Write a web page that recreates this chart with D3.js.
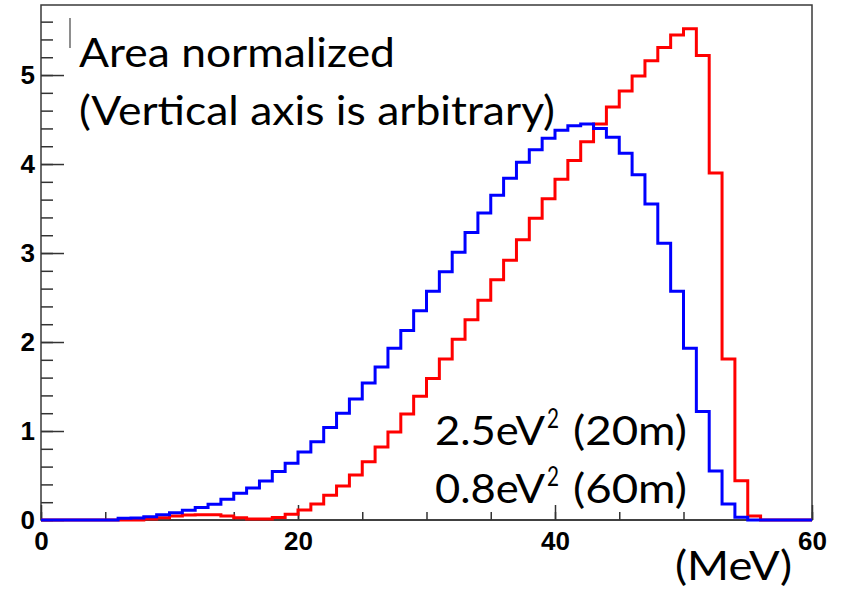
<!DOCTYPE html>
<html>
<head>
<meta charset="utf-8">
<script src="https://cdn.jsdelivr.net/npm/d3@7"></script>
<style>
  html, body { margin: 0; padding: 0; background: #fff; }
  svg { display: block; }
</style>
</head>
<body>
<svg id="chart" width="842" height="591"></svg>
<script>
// Energy spectra, 1 MeV bins from 0 to 60 MeV (area normalized)
const binEdges = d3.range(0, 61);

// 2.5 eV^2 at 20 m
const blueValues = [
  0, 0, 0, 0, 0, 0, 0.02, 0.022, 0.037, 0.06,
  0.082, 0.11, 0.14, 0.176, 0.232, 0.30, 0.36, 0.438, 0.545, 0.637,
  0.765, 0.88, 1.04, 1.20, 1.36, 1.54, 1.72, 1.93, 2.13, 2.35,
  2.57, 2.79, 3.01, 3.23, 3.45, 3.65, 3.84, 4.02, 4.16, 4.29,
  4.38, 4.43, 4.45, 4.40, 4.30, 4.12, 3.88, 3.55, 3.11, 2.57,
  1.93, 1.22, 0.55, 0.18, 0.03, 0, 0, 0, 0, 0
];

// 0.8 eV^2 at 60 m
const redValues = [
  0, 0, 0, 0, 0, 0, 0, 0, 0.01, 0.025,
  0.045, 0.055, 0.06, 0.06, 0.045, 0.025, 0.01, 0.01, 0.028, 0.065,
  0.112, 0.18, 0.277, 0.382, 0.506, 0.655, 0.82, 0.99, 1.19, 1.39,
  1.59, 1.81, 2.03, 2.25, 2.47, 2.70, 2.92, 3.15, 3.39, 3.61,
  3.83, 4.04, 4.25, 4.45, 4.64, 4.82, 4.99, 5.16, 5.31, 5.45,
  5.52, 5.22, 3.90, 1.81, 0.44, 0.045, 0, 0, 0, 0
];

const xMajorTicks = [0, 20, 40, 60];
const xMinorTicks = d3.range(0, 61, 5);
const yMajorTicks = [0, 1, 2, 3, 4, 5];
const yMinorTicks = d3.range(0, 5.7, 0.2);

const xMin = 0, xMax = 60, yMin = 0, yMax = 5.787;

const svg = d3.select("#chart");
const plot = { left: 41, right: 812, top: 5, bottom: 520 };

const x = d3.scaleLinear().domain([xMin, xMax]).range([plot.left, plot.right]);
const y = d3.scaleLinear().domain([yMin, yMax]).range([plot.bottom, plot.top]);

const labelFont = "'Liberation Sans', Arial, Helvetica, sans-serif";
const textFont = "Lato, 'Open Sans', sans-serif";

// Frame
svg.append("rect")
  .attr("x", plot.left).attr("y", plot.top)
  .attr("width", plot.right - plot.left).attr("height", plot.bottom - plot.top)
  .attr("fill", "none").attr("stroke", "#3a3a3a").attr("stroke-width", 1.5);

// Y axis: minor then major ticks drawn inward
const yMinorAxis = d3.axisLeft(y).tickValues(yMinorTicks).tickSize(-12).tickFormat("");
const yMajorAxis = d3.axisLeft(y).tickValues(yMajorTicks).tickSize(-23).tickPadding(6).tickFormat(d3.format("d"));

const gYm = svg.append("g").attr("transform", `translate(${plot.left},0)`).call(yMinorAxis);
const gY = svg.append("g").attr("transform", `translate(${plot.left},0)`).call(yMajorAxis);

// X axis
const xMinorAxis = d3.axisBottom(x).tickValues(xMinorTicks).tickSize(-8).tickFormat("");
const xMajorAxis = d3.axisBottom(x).tickValues(xMajorTicks).tickSize(-15).tickPadding(12).tickFormat(d3.format("d"));

const gXm = svg.append("g").attr("transform", `translate(0,${plot.bottom})`).call(xMinorAxis);
const gX = svg.append("g").attr("transform", `translate(0,${plot.bottom})`).call(xMajorAxis);

[gYm, gY, gXm, gX].forEach(g => {
  g.select(".domain").remove();
  g.selectAll(".tick line").attr("stroke", "#333").attr("stroke-width", 1.5);
  g.selectAll(".tick text")
    .attr("fill", "#000")
    .attr("font-family", labelFont)
    .attr("font-weight", "bold")
    .attr("font-size", 26);
});

// Bottom axis line
svg.append("line")
  .attr("x1", plot.left).attr("x2", plot.right)
  .attr("y1", plot.bottom).attr("y2", plot.bottom)
  .attr("stroke", "#333").attr("stroke-width", 1.5);

// Histogram outlines
function histPoints(values) {
  const pts = values.map((v, i) => [binEdges[i], v]);
  pts.push([binEdges[binEdges.length - 1], values[values.length - 1]]);
  return pts;
}
const stepLine = d3.line()
  .x(d => x(d[0]))
  .y(d => y(d[1]))
  .curve(d3.curveStepAfter);

svg.append("path")
  .attr("d", stepLine(histPoints(redValues)))
  .attr("fill", "none").attr("stroke", "#ff0000").attr("stroke-width", 3);

svg.append("path")
  .attr("d", stepLine(histPoints(blueValues)))
  .attr("fill", "none").attr("stroke", "#0000ff").attr("stroke-width", 3);

// Small marker stroke beside the note
svg.append("line")
  .attr("x1", 70).attr("x2", 70).attr("y1", 18).attr("y2", 48)
  .attr("stroke", "#444").attr("stroke-width", 1.2);

// Note
svg.append("text")
  .attr("x", 79).attr("y", 67)
  .attr("font-family", textFont).attr("font-size", 41)
  .attr("textLength", 316).attr("lengthAdjust", "spacingAndGlyphs")
  .text("Area normalized");
svg.append("text")
  .attr("x", 79).attr("y", 125)
  .attr("font-family", textFont).attr("font-size", 41)
  .attr("textLength", 476).attr("lengthAdjust", "spacingAndGlyphs")
  .text("(Vertical axis is arbitrary)");

// Series labels
const seriesLabels = [
  { main: "2.5eV", sup: "2", tail: "(20m)", base: 445 },
  { main: "0.8eV", sup: "2", tail: "(60m)", base: 503 }
];
seriesLabels.forEach(s => {
  const t = svg.append("text")
    .attr("font-family", textFont).attr("font-size", 41).attr("fill", "#000");
  t.append("tspan").attr("x", 435).attr("y", s.base)
    .attr("textLength", 110).attr("lengthAdjust", "spacingAndGlyphs").text(s.main);
  t.append("tspan").attr("x", 547).attr("y", s.base - 17).attr("font-size", 26)
    .attr("textLength", 12).attr("lengthAdjust", "spacingAndGlyphs").text(s.sup);
  t.append("tspan").attr("x", 573).attr("y", s.base)
    .attr("textLength", 114).attr("lengthAdjust", "spacingAndGlyphs").text(s.tail);
});

// Axis unit
svg.append("text")
  .attr("x", 675).attr("y", 580)
  .attr("font-family", textFont).attr("font-size", 41)
  .attr("textLength", 117).attr("lengthAdjust", "spacingAndGlyphs")
  .text("(MeV)");
</script>
</body>
</html>
